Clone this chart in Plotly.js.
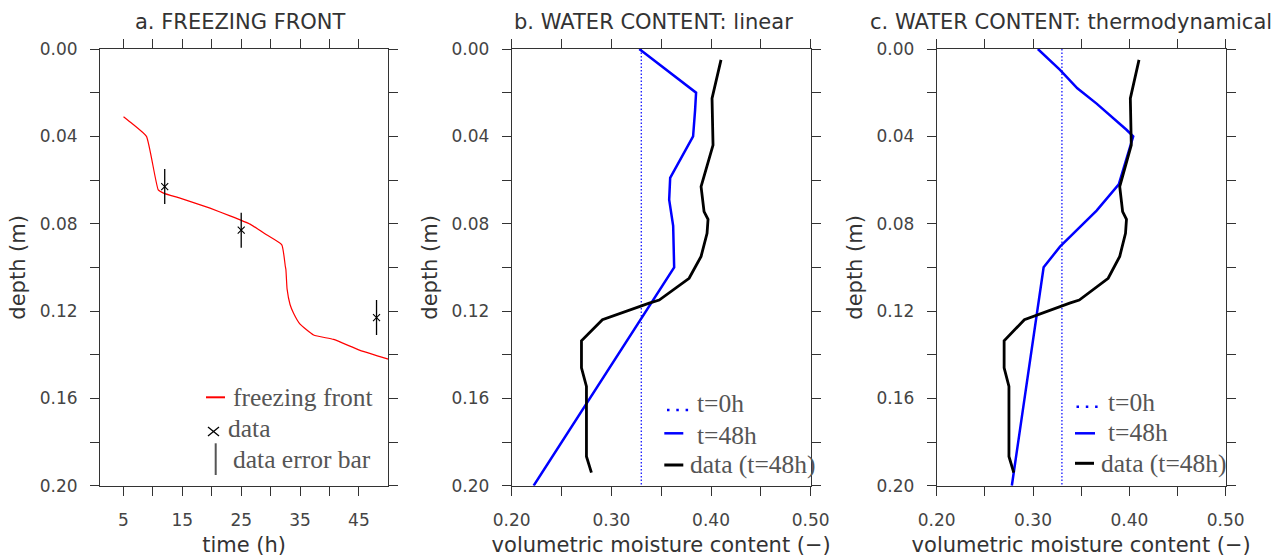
<!DOCTYPE html>
<html>
<head>
<meta charset="utf-8">
<script src="https://cdn.plot.ly/plotly-3.0.1.min.js"></script>
<style>
html,body{margin:0;padding:0;background:#fff;}
#chart{width:1286px;height:558px;}
</style>
</head>
<body>
<div id="chart"></div>
<script>
// ---------- data ----------
// panel a: freezing front (time h, depth m)
const ffTime  = [5, 6.4, 8.9, 10.9, 11.8, 14.6, 19.7, 23.1, 26.5, 29.3, 31.9, 32.5, 32.6, 32.8, 33.3, 33.9, 35.0, 37.3, 40.7, 45.2, 50];
const ffDepth = [0.031, 0.034, 0.040, 0.0645, 0.066, 0.0683, 0.0729, 0.0764, 0.0802, 0.0851, 0.0897, 0.0996, 0.1011, 0.110, 0.117, 0.121, 0.126, 0.131, 0.133, 0.138, 0.142];
const obsTime  = [12, 25, 48];
const obsDepth = [0.063, 0.083, 0.123];
const obsErr   = [0.008, 0.008, 0.008];

// panels b, c: water content profiles
const initDepth = [0, 0.20];
const initTheta = [0.33, 0.33];
const linDepth = [0, 0.020, 0.028, 0.040, 0.059, 0.069, 0.081, 0.100, 0.200];
const linTheta = [0.328, 0.385, 0.384, 0.382, 0.359, 0.358, 0.362, 0.363, 0.222];
const thDepth = [0, 0.0096, 0.018, 0.025, 0.037, 0.040, 0.062, 0.074, 0.0905, 0.100, 0.200];
const thTheta = [0.305, 0.328, 0.346, 0.366, 0.397, 0.404, 0.389, 0.366, 0.328, 0.311, 0.278];
const dataDepth = [0.005, 0.0226, 0.044, 0.063, 0.0745, 0.078, 0.0844, 0.095, 0.105, 0.115, 0.1164, 0.120, 0.124, 0.1336, 0.146, 0.1545, 0.1866, 0.194];
const dataTheta = [0.410, 0.401, 0.402, 0.390, 0.393, 0.397, 0.396, 0.390, 0.378, 0.348, 0.338, 0.315, 0.291, 0.270, 0.270, 0.275, 0.275, 0.280];

// ticks and labels
const depthTicks  = [0, 0.02, 0.04, 0.06, 0.08, 0.10, 0.12, 0.14, 0.16, 0.18, 0.20];
const depthLabels = ['0.00', '', '0.04', '', '0.08', '', '0.12', '', '0.16', '', '0.20'];
const timeTicks  = [5, 10, 15, 20, 25, 30, 35, 40, 45];
const timeLabels = ['5', '', '15', '', '25', '', '35', '', '45'];
const thetaTicks  = [0.20, 0.25, 0.30, 0.35, 0.40, 0.45, 0.50];
const thetaLabels = ['0.20', '', '0.30', '', '0.40', '', '0.50'];

const panelTitles = ['a. FREEZING FRONT', 'b. WATER CONTENT: linear', 'c. WATER CONTENT: thermodynamical'];
const legendA = ['freezing front', 'data', 'data error bar'];
const legendBC = ['t=0h', 't=48h', 'data (t=48h)'];

// ---------- layout helpers ----------
const W = 1286, H = 558;
const px = v => v / W;
const py = v => 1 - v / H;
const TOP = 49, BOT = 485.7;

const tickFont = {family: 'DejaVu Sans', size: 17, color: '#444'};
const titleFont = {family: 'DejaVu Sans', size: 21, color: '#333'};
const legFont = {family: 'Liberation Serif', size: 25.5, color: '#555'};

function yAxis(anchor) {
  return {
    anchor: anchor, domain: [py(BOT), py(TOP)], range: [0.2, 0],
    tickmode: 'array', tickvals: depthTicks, ticktext: depthLabels,
    ticks: 'outside', ticklen: 9, tickwidth: 1, tickcolor: '#333',
    showline: true, linecolor: '#333', linewidth: 1, mirror: 'ticks',
    showgrid: false, zeroline: false, tickfont: tickFont, ticklabelstandoff: 9,
    title: {text: 'depth (m)', font: titleFont, standoff: 8}
  };
}
function xAxis(anchor, l, r, range, tv, tt, title) {
  return {
    anchor: anchor, domain: [px(l), px(r)], range: range,
    tickmode: 'array', tickvals: tv, ticktext: tt,
    ticks: 'outside', ticklen: 9, tickwidth: 1, tickcolor: '#333',
    showline: true, linecolor: '#333', linewidth: 1, mirror: 'ticks',
    showgrid: false, zeroline: false, tickfont: tickFont, ticklabelstandoff: 10,
    title: {text: title, font: titleFont, standoff: 8}
  };
}

// ---------- traces ----------
const traces = [
  {x: ffTime, y: ffDepth, xaxis: 'x', yaxis: 'y', mode: 'lines', line: {color: '#ff0000', width: 1.2, shape: 'spline', smoothing: 0.4}, name: legendA[0]},
  {x: obsTime, y: obsDepth, xaxis: 'x', yaxis: 'y', mode: 'markers', name: legendA[1],
   marker: {symbol: 'x-thin', size: 7, line: {color: '#000', width: 1.1}, color: '#000'},
   error_y: {type: 'data', array: obsErr, visible: true, color: '#000', thickness: 1.3, width: 0}},
  {x: initTheta, y: initDepth, xaxis: 'x2', yaxis: 'y2', mode: 'lines', line: {color: '#0000ff', width: 1.2, dash: '1.5px,2px'}, name: legendBC[0]},
  {x: linTheta, y: linDepth, xaxis: 'x2', yaxis: 'y2', mode: 'lines', line: {color: '#0000ff', width: 2.5}, name: legendBC[1]},
  {x: dataTheta, y: dataDepth, xaxis: 'x2', yaxis: 'y2', mode: 'lines', line: {color: '#000', width: 2.8}, name: legendBC[2]},
  {x: initTheta, y: initDepth, xaxis: 'x3', yaxis: 'y3', mode: 'lines', line: {color: '#0000ff', width: 1.2, dash: '1.5px,2px'}, name: legendBC[0]},
  {x: thTheta, y: thDepth, xaxis: 'x3', yaxis: 'y3', mode: 'lines', line: {color: '#0000ff', width: 2.5}, name: legendBC[1]},
  {x: dataTheta, y: dataDepth, xaxis: 'x3', yaxis: 'y3', mode: 'lines', line: {color: '#000', width: 2.8}, name: legendBC[2]}
];

// ---------- legend drawings (shapes) ----------
const shapes = [];
function seg(x0, y0, x1, y1, color, width, dash) {
  shapes.push({type: 'line', xref: 'paper', yref: 'paper', x0: px(x0), x1: px(x1), y0: py(y0), y1: py(y1),
    line: {color: color, width: width, dash: dash || 'solid'}});
}
// panel a legend
seg(206, 397.3, 225, 397.3, '#ff0000', 2);
seg(208, 427, 219, 436, '#000', 1.3);
seg(208, 436, 219, 427, '#000', 1.3);
seg(215.7, 443.3, 215.7, 475, '#555', 2);
// panel b legend
seg(667, 410, 690, 410, '#0000ff', 2.5, '2.5px,6.8px');
seg(664.3, 433.3, 683.3, 433.3, '#0000ff', 2.5);
seg(664.3, 465, 683.3, 465, '#000', 3);
// panel c legend
seg(1076.5, 406.7, 1099.5, 406.7, '#0000ff', 2.5, '2.5px,6.8px');
seg(1075, 433.3, 1095, 433.3, '#0000ff', 2.5);
seg(1075, 463.3, 1094, 463.3, '#000', 3);

// ---------- annotations ----------
const annotations = [];
function txt(t, x, y, font, xanchor) {
  annotations.push({text: t, xref: 'paper', yref: 'paper', x: px(x), y: py(y), xanchor: xanchor || 'left', yanchor: 'middle', showarrow: false, font: font});
}
txt(panelTitles[0], 240.7, 21.7, titleFont, 'center');
txt(panelTitles[1], 653, 21.7, titleFont, 'center');
txt(panelTitles[2], 1070.8, 21.7, titleFont, 'center');
// legend texts
txt(legendA[0], 230.5, 397, legFont);
txt(legendA[1], 226, 428, legFont);
txt(legendA[2], 230.5, 459.7, legFont);
txt(legendBC[0], 695, 403.7, legFont);
txt(legendBC[1], 694.5, 435.3, legFont);
txt(legendBC[2], 688, 464.7, legFont);
txt(legendBC[0], 1106, 402, legFont);
txt(legendBC[1], 1105.5, 432, legFont);
txt(legendBC[2], 1098.5, 463.7, legFont);

const layout = {
  width: W, height: H, margin: {l: 0, r: 0, t: 0, b: 0},
  paper_bgcolor: '#fff', plot_bgcolor: '#fff', showlegend: false,
  xaxis:  xAxis('y',  100,   388.3, [1, 50],      timeTicks,  timeLabels,  'time (h)'),
  yaxis:  yAxis('x'),
  xaxis2: xAxis('y2', 511.7, 810.7, [0.2, 0.5],   thetaTicks, thetaLabels, 'volumetric moisture content (−)'),
  yaxis2: yAxis('x2'),
  xaxis3: xAxis('y3', 936.7, 1225.7, [0.2, 0.5],  thetaTicks, thetaLabels, 'volumetric moisture content (−)'),
  yaxis3: yAxis('x3'),
  shapes: shapes, annotations: annotations
};

Plotly.newPlot('chart', traces, layout, {displayModeBar: false, staticPlot: true});
</script>
</body>
</html>
